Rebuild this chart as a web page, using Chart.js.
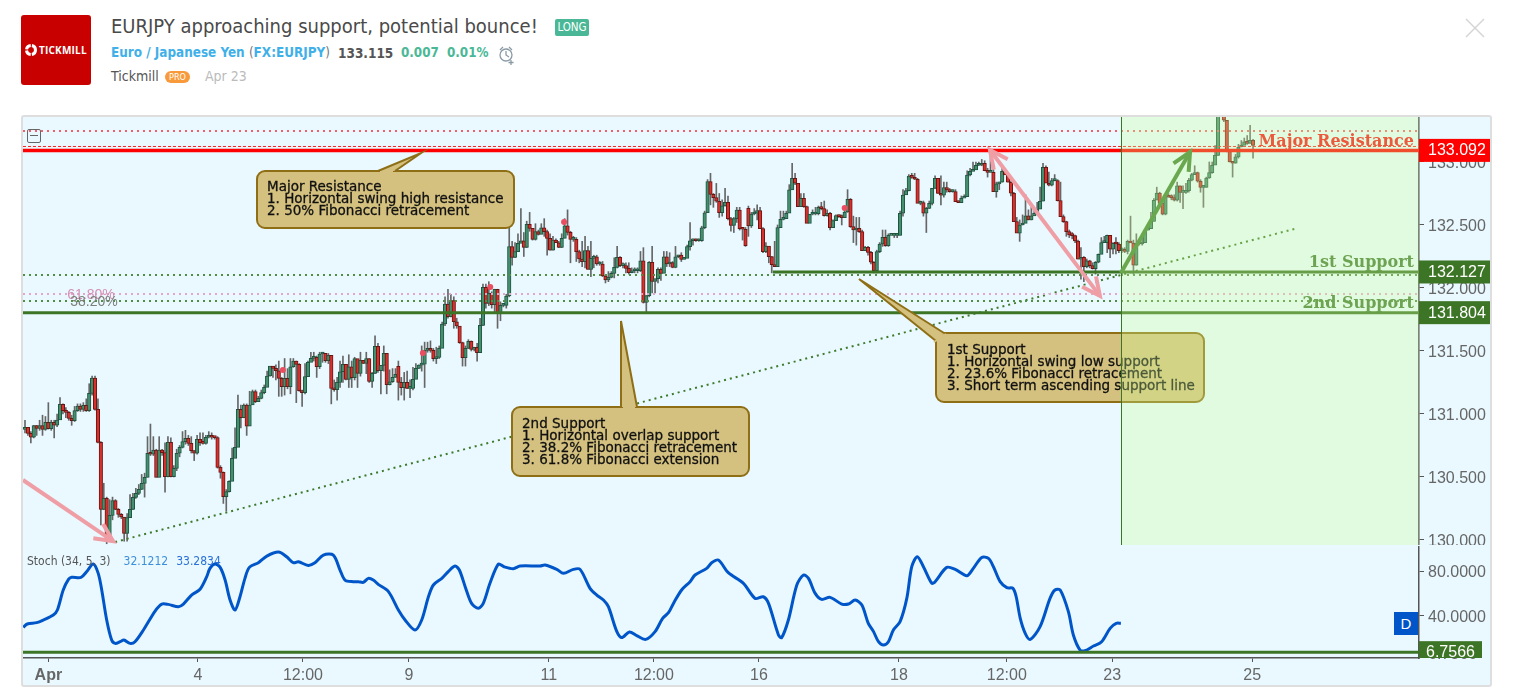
<!DOCTYPE html>
<html>
<head>
<meta charset="utf-8">
<title>EURJPY approaching support, potential bounce!</title>
<script src="https://cdn.jsdelivr.net/npm/chart.js@4"></script>
<style>
  html, body { margin: 0; padding: 0; background: #fff; width: 1514px; height: 693px; overflow: hidden; }
  body { position: relative; font-family: "DejaVu Sans Condensed", "DejaVu Sans", sans-serif; }
  .abs { position: absolute; white-space: nowrap; }
  #panel { position: absolute; left: 21px; top: 115px; width: 1467px; height: 568px; background: #e9f9ff; border: 2px solid #dedede; border-radius: 3px; box-sizing: content-box; }
  canvas { position: absolute; }
  #logo { left: 21px; top: 15px; width: 70px; height: 70px; background: #c80000; border-radius: 3px; }
  #logoText { left: 39px; top: 43px; color: #fff; font: bold 10px "Open Sans", sans-serif; letter-spacing: 0.2px; }
  #title { left: 111px; top: 14px; color: #4a4a4a; font-size: 20px; }
  #long { left: 555px; top: 19px; width: 34px; height: 17px; line-height: 17px; text-align: center; background: #4ab896; color: #fff; border-radius: 2px; font-size: 11.5px; }
  #sym { left: 111px; top: 45px; font-size: 13.4px; font-weight: bold; color: #3fb0e8; }
  #sym i { font-style: normal; font-weight: normal; color: #777; }
  #price { left: 338px; top: 45px; font-size: 13.5px; font-weight: bold; color: #555; }
  .up { top: 45px; font-size: 13.3px; font-weight: bold; color: #4ab896; }
  #author { left: 111px; top: 68px; font-size: 14px; color: #555; }
  #pro { left: 165px; top: 71px; width: 25px; height: 12px; line-height: 12px; text-align: center; background: #f89a3a; color: #fff; border-radius: 6px; font-size: 9px; }
  #date { left: 205px; top: 68px; font-size: 14px; color: #bbb; }
  #stoch { left: 27px; top: 554px; font-size: 12px; color: #555; }
  #stoch b { font-weight: normal; }
  #dBtn { left: 1394px; top: 612px; width: 24px; height: 23px; line-height: 23px; background: #0055c8; color: #fff; text-align: center; font: 15px "Liberation Sans", sans-serif; line-height: 23px; }
  #hide { left: 27px; top: 129px; width: 12px; height: 12px; border: 1px solid #666; border-radius: 2px; }
  #hide::after { content: ""; position: absolute; left: 2px; right: 2px; top: 5px; height: 1px; background: #666; }
</style>
</head>
<body>
<div class="abs" id="logo"></div>
<svg class="abs" style="left:24px;top:43px" width="14" height="14"><circle cx="7" cy="7" r="4.5" fill="none" stroke="#fff" stroke-width="3" stroke-dasharray="6 1.2"/></svg>
<div class="abs" id="logoText">TICKMILL</div>
<div class="abs" id="title">EURJPY approaching support, potential bounce!</div>
<div class="abs" id="long">LONG</div>
<div class="abs" id="sym">Euro / Japanese Yen <i>(</i>FX:EURJPY<i>)</i></div>
<div class="abs" id="price">133.115</div>
<div class="abs up" style="left:401px">0.007</div>
<div class="abs up" style="left:447px">0.01%</div>
<svg class="abs" style="left:497px;top:45px" width="20" height="20" fill="none" stroke="#8a9aa5" stroke-width="1.3"><circle cx="9" cy="10" r="6"/><path d="M9 6v4l3 2M3 5l3-3M12 2l3 3M14 15v5M11.5 17.500h5"/></svg>
<div class="abs" id="author">Tickmill</div>
<div class="abs" id="pro">PRO</div>
<div class="abs" id="date">Apr 23</div>
<svg class="abs" style="left:1465px;top:18px" width="20" height="20" stroke="#d5d5d5" stroke-width="1.5"><path d="M1 1L19 19M19 1L1 19"/></svg>
<div id="panel"></div>
<canvas id="priceChart" width="1467" height="428" style="left:23px;top:117px"></canvas>
<canvas id="stochChart" width="1467" height="138" style="left:23px;top:546px"></canvas>
<div class="abs" id="hide"></div>
<div class="abs" id="stoch">Stoch (34, 5, 3)<b style="color:#3d8fd9;margin-left:13px">32.1212</b><b style="color:#2a70d8;margin-left:8px">33.2834</b></div>
<div class="abs" id="dBtn">D</div>

<script>
// hourly candles, bar 0 sits at the left edge of the pane
const firstOpen = 130.878
const closes = [
  130.894,130.846,130.815,130.907,130.886,130.907,130.878,130.934,130.883,130.934,130.912,130.952,131.077,131.026,131.013,130.965,130.947,131.026,131.063,131.037,
  131.069,131.026,131.164,131.285,131.037,130.775,130.243,130.330,130.013,130.195,130.312,130.243,130.203,130.182,130.052,130.177,130.243,130.338,130.370,130.402,
  130.449,130.497,130.688,130.680,130.714,130.497,130.714,130.693,130.502,130.775,130.502,130.568,130.688,130.735,130.780,130.807,130.767,130.709,130.688,130.799,
  130.772,130.767,130.815,130.830,130.815,130.812,130.576,130.537,130.343,130.383,130.465,130.648,130.735,131.037,130.971,131.071,130.904,131.071,131.177,131.098,
  131.124,131.169,131.211,131.301,131.381,
  131.362,131.343,131.282,131.216,131.282,131.216,131.375,131.420,131.394,131.185,131.169,131.296,131.409,131.441,131.449,
  131.375,131.476,131.481,131.423,131.465,131.203,131.192,131.251,131.335,131.394,131.274,131.375,131.288,131.439,131.322,
  131.425,131.402,131.439,131.259,131.322,131.536,131.343,131.386,131.481,131.232,131.256,131.290,131.314,131.251,131.208,
  131.251,131.203,131.203,131.274,131.362,131.388,131.396,131.505,131.521,131.505,131.439,131.449,131.521,131.714,131.873,
  131.772,131.899,131.732,131.698,131.566,131.446,131.521,131.576,131.513,131.528,131.486,131.703,132.005,131.878,131.957,
  131.867,131.989,131.804,131.862,131.862,131.936,
  132.328,132.243,132.288,132.354,132.375,132.322,132.505,132.473,132.386,132.447,132.425,132.478,132.447,132.394,132.301,132.380,132.359,132.322,132.394,132.494,
  132.441,132.386,132.386,132.288,132.230,132.208,132.296,132.148,132.235,132.248,132.190,132.190,132.095,132.063,132.084,132.116,132.163,132.243,132.177,132.177,
  132.156,132.121,132.137,132.137,132.137,132.216,131.886,131.939,132.203,132.052,132.074,132.148,132.116,132.248,132.190,132.201,132.163,132.248,132.261,132.227,
  132.235,132.328,132.375,132.380,132.375,132.375,132.478,132.597,
  132.844,132.743,132.717,132.688,132.598,132.651,132.680,132.550,132.497,132.550,132.619,132.471,132.466,132.336,132.492,132.587,132.593,132.614,132.471,132.288,
  132.333,132.249,132.185,132.169,132.479,132.545,132.550,132.593,132.778,132.870,132.831,132.646,132.712,132.646,132.513,132.585,132.587,132.590,132.640,132.630,
  132.574,132.593,132.479,132.534,132.574,132.566,132.558,132.603,132.704,132.487,132.460,132.474,132.447,132.296,132.323,132.283,132.204,132.138,132.288,132.349,
  132.402,132.336,132.418,132.418,132.418,132.418,132.593,132.738,132.773,132.889,132.878,132.863,132.672,132.677,132.593,132.632,132.672,132.791,132.870,132.751,
  132.736,132.797,132.778,132.765,132.765,132.685,132.678,132.712,132.725,132.897,132.926,132.937,132.974,132.974,132.990,132.932,132.918,132.918,132.765,132.826,
  132.839,132.926,132.897,132.839,132.752,132.527,132.434,132.500,132.513,132.572,132.540,132.572,132.593,132.625,132.688,132.958,132.831,132.815,132.852,132.852,
  132.693,132.566,132.527,132.447,132.421,132.416,132.373,132.228,132.244,132.170,132.215,132.177,132.154,132.204,132.267,132.360,132.360,132.418,132.307,132.355,
  132.349,132.297,132.297,132.291,
  132.370,132.357,132.180,132.357,132.349,132.360,132.458,132.471,132.529,132.696,132.754,132.672,132.585,132.736,132.720,132.717,132.696,132.810,132.759,132.759,
  132.773,132.855,132.900,132.915,132.847,132.799,132.799,132.873,132.915,132.974,133.053,133.423,133.450,133.331,133.085,133.000,132.990,133.040,133.119,133.132,
  133.159,133.148,133.172,133.132
]
// the few bars that opened away from the previous close
const openGaps = { 128: 131.378, 248: 132.632 }
const highs = [
  130.95,130.89,130.86,130.91,130.91,130.95,130.99,130.98,131.09,130.95,130.95,131.00,131.13,131.08,131.05,131.02,130.99,131.06,131.08,131.08,
  131.09,131.12,131.24,131.30,131.30,131.12,130.78,130.45,130.34,130.32,130.34,130.32,130.25,130.21,130.18,130.21,130.36,130.37,130.41,130.44,
  130.52,130.53,130.82,130.92,130.82,130.72,130.82,130.72,130.77,130.82,130.81,130.59,130.72,130.75,130.86,130.87,130.83,130.82,130.71,130.83,
  130.85,130.85,130.83,130.86,130.85,130.82,130.82,130.59,130.54,130.40,130.47,130.73,130.89,131.15,131.07,131.08,131.08,131.18,131.19,131.19,
  131.14,131.19,131.23,131.34,131.35,
  131.37,131.39,131.42,131.29,131.44,131.36,131.44,131.44,131.42,131.40,131.19,131.40,131.42,131.49,131.49,
  131.46,131.49,131.49,131.48,131.48,131.46,131.27,131.29,131.42,131.46,131.39,131.47,131.42,131.45,131.42,
  131.49,131.42,131.49,131.44,131.33,131.62,131.56,131.38,131.54,131.48,131.35,131.36,131.36,131.42,131.29,
  131.33,131.34,131.27,131.37,131.40,131.39,131.54,131.57,131.57,131.58,131.52,131.53,131.54,131.73,131.93,
  131.99,131.95,131.93,131.76,131.69,131.57,131.54,131.59,131.58,131.53,131.56,131.76,132.03,132.03,132.05,
  131.97,131.99,131.99,131.89,131.87,131.95,
  132.49,132.37,132.36,132.43,132.63,132.44,132.53,132.60,132.47,132.51,132.46,132.51,132.55,132.46,132.43,132.41,132.39,132.37,132.43,132.55,
  132.62,132.45,132.41,132.40,132.30,132.37,132.41,132.33,132.37,132.26,132.26,132.21,132.21,132.10,132.13,132.13,132.24,132.33,132.25,132.20,
  132.20,132.20,132.16,132.16,132.16,132.29,132.32,131.94,132.21,132.33,132.07,132.16,132.16,132.29,132.29,132.28,132.21,132.33,132.26,132.28,
  132.24,132.34,132.52,132.39,132.39,132.39,132.49,132.61,
  132.86,132.91,132.75,132.83,132.75,132.70,132.79,132.73,132.56,132.56,132.64,132.64,132.48,132.48,132.65,132.60,132.63,132.66,132.64,132.48,
  132.36,132.33,132.25,132.37,132.50,132.61,132.61,132.61,132.82,132.99,132.91,132.83,132.75,132.75,132.65,132.58,132.62,132.64,132.65,132.68,
  132.69,132.62,132.60,132.54,132.58,132.58,132.58,132.62,132.78,132.71,132.57,132.56,132.56,132.46,132.33,132.33,132.29,132.21,132.30,132.36,
  132.46,132.46,132.43,132.42,132.43,132.43,132.61,132.78,132.79,132.90,132.91,132.91,132.87,132.69,132.69,132.64,132.69,132.79,132.89,132.87,
  132.89,132.84,132.84,132.79,132.78,132.78,132.69,132.73,132.74,132.93,132.95,133.00,133.00,133.00,133.02,133.01,132.95,133.10,132.94,132.84,
  132.84,132.95,132.95,132.91,132.85,132.76,132.56,132.54,132.58,132.74,132.62,132.64,132.64,132.68,132.80,132.99,132.97,132.92,132.87,132.90,
  132.86,132.84,132.58,132.53,132.46,132.44,132.42,132.38,132.32,132.25,132.23,132.22,132.20,132.21,132.27,132.40,132.41,132.42,132.41,132.36,
  132.40,132.36,132.32,132.32,
  132.38,132.57,132.38,132.43,132.37,132.43,132.46,132.50,132.60,132.71,132.80,132.76,132.68,132.74,132.75,132.74,132.74,132.84,132.81,132.81,
  132.83,132.87,132.91,132.97,132.92,132.86,132.81,132.88,133.00,133.00,133.13,133.45,133.45,133.43,133.33,133.09,133.00,133.06,133.14,133.17,
  133.19,133.21,133.29,133.18
]
const lows = [
  130.85,130.83,130.77,130.81,130.83,130.87,130.83,130.87,130.88,130.87,130.81,130.90,130.98,131.00,130.97,130.95,130.91,130.94,131.02,131.02,
  131.02,131.02,131.02,131.15,131.03,130.77,130.12,130.24,129.97,130.01,130.16,130.24,130.18,130.17,129.99,129.99,130.18,130.24,130.33,130.36,
  130.40,130.34,130.50,130.67,130.67,130.50,130.50,130.67,130.38,130.50,130.50,130.50,130.55,130.66,130.73,130.76,130.75,130.69,130.63,130.68,
  130.75,130.76,130.76,130.81,130.80,130.80,130.57,130.49,130.29,130.23,130.38,130.53,130.73,131.03,130.89,130.97,130.83,131.06,131.08,131.09,
  131.10,131.12,131.16,131.22,131.30,
  131.29,131.27,131.14,131.14,131.15,131.20,131.16,131.37,131.09,131.18,131.06,131.16,131.37,131.42,131.42,
  131.29,131.36,131.41,131.41,131.40,131.08,131.18,131.11,131.21,131.25,131.27,131.21,131.21,131.27,131.21,
  131.30,131.40,131.32,131.25,131.21,131.32,131.33,131.16,131.34,131.16,131.23,131.25,131.29,131.11,131.15,
  131.11,131.20,131.13,131.19,131.33,131.36,131.34,131.21,131.49,131.49,131.42,131.40,131.44,131.68,131.70,
  131.76,131.77,131.68,131.68,131.56,131.38,131.38,131.52,131.50,131.50,131.42,131.56,131.70,131.84,131.86,
  131.84,131.80,131.68,131.74,131.85,131.84,
  131.93,132.18,132.24,132.33,132.36,132.25,132.32,132.45,132.38,132.38,132.42,132.43,132.41,132.26,132.30,132.30,132.36,132.32,132.32,132.40,
  132.42,132.20,132.37,132.21,132.20,132.17,132.16,132.15,132.09,132.16,132.18,132.18,132.09,132.04,132.05,132.08,132.08,132.16,132.17,132.16,
  132.12,132.11,132.12,132.12,132.12,132.13,131.88,131.81,131.93,131.96,131.96,132.04,132.06,132.18,132.17,132.17,132.16,132.16,132.24,132.21,
  132.23,132.24,132.30,132.34,132.37,132.37,132.37,132.47,
  132.60,132.66,132.64,132.68,132.56,132.57,132.65,132.54,132.45,132.44,132.52,132.46,132.38,132.33,132.41,132.48,132.58,132.54,132.47,132.28,
  132.28,132.20,132.12,132.17,132.17,132.48,132.54,132.55,132.70,132.78,132.82,132.65,132.65,132.64,132.52,132.52,132.58,132.58,132.58,132.62,
  132.57,132.57,132.46,132.48,132.54,132.56,132.50,132.56,132.60,132.48,132.36,132.34,132.44,132.30,132.30,132.26,132.19,132.12,132.12,132.28,
  132.33,132.33,132.33,132.42,132.40,132.40,132.42,132.57,132.74,132.77,132.87,132.86,132.68,132.66,132.57,132.44,132.63,132.66,132.79,132.75,
  132.66,132.72,132.76,132.76,132.76,132.69,132.68,132.68,132.72,132.73,132.89,132.93,132.94,132.97,132.97,132.93,132.88,132.92,132.77,132.72,
  132.78,132.84,132.90,132.84,132.73,132.53,132.44,132.37,132.50,132.52,132.54,132.54,132.58,132.58,132.63,132.69,132.84,132.81,132.81,132.85,
  132.69,132.57,132.52,132.41,132.40,132.39,132.36,132.23,132.07,132.05,132.16,132.16,132.15,132.11,132.20,132.28,132.36,132.28,132.24,132.27,
  132.27,132.28,132.28,132.28,
  132.27,132.36,132.11,132.18,132.34,132.34,132.36,132.46,132.47,132.53,132.70,132.67,132.58,132.58,132.72,132.70,132.69,132.69,132.68,132.63,
  132.75,132.76,132.85,132.90,132.84,132.76,132.64,132.80,132.87,132.91,132.98,133.05,133.41,133.32,133.08,133.00,132.88,132.99,133.03,133.12,
  133.14,133.14,133.15,133.03
]

// red event dots above the candles
const eventBars = [88.4, 136.4, 159.5, 184.8, 281]
const eventPrices = [131.349, 131.484, 132.008, 132.524, 132.635]

// stochastic, sampled along the curve
const stochBars = [
  -0.6,0.8,4,6.3,9.7,11.1,13.1,14.9,16,19.2,21.1,23.4,25.1,26.3,28,29.7,30.9,32.6,33.9,36,37.7,40.6,44.6,46.9,49.1,52.6,54.3,57.1,60,62.3,63.4,65.1,66.9,68.6,70.3,72,73.7,75.4,76.9,80,
  82.9,86.9,89.7,92,93.7,97.1,99.4,102.3,105.7,108,109.7,112.6,114.3,116,117.7,119.4,121.1,124.6,128,130.3,133.7,136,138.3,140,142.9,145.1,147.4,148.9,150.9,153.1,155.4,157.1,159.4,162.3,
  164.2,167.4,169.7,176.6,178.3,182.3,184.6,188,190.3,193.7,196,198.3,200,202.9,204.6,207.2,209.7,212.8,216,218.6,220.6,222.3,225.1,228,229.7,233.7,235.4,237.7,241.1,246.3,250.3,253.1,254.9,
  258.3,259.4,261.7,264.6,266.9,268.6,270.9,273.1,276,280,282.3,284.6,286.9,289.1,290.9,292.6,294.3,296,297.7,300,302.3,304,305.9,308,310.9,312,316,318.9,322.9,325.1,328,330.3,332,334.3,336.6,338.7,339.8,341.2,
  342.9,344.6,348,351.4,353.1,354.9,357.7,359.4,361.7,363.4,366.3,369.1,372,374.1,375.7
]
const stochValues = [
  29.2,32.2,33.4,35.8,40.3,44.8,62.9,72.5,74.3,74.3,79.4,86.3,77.9,62.9,35.8,17.7,14.7,16.2,17.7,14.7,16.2,26.8,43.9,50.2,49.9,47.8,50.2,58.3,63.5,74.9,82.4,86.3,83.3,71.9,53.8,44.8,56.8,73.4,83.3,87.5,
  93.5,97.1,92.9,87.5,88.4,85.1,87.5,94.4,94.4,80.9,71.9,70.4,70.4,69.8,73.4,71.9,68,61.4,44.8,35.8,26.8,35.8,56.8,67.4,73.4,79.4,84.5,80.9,65.9,50.8,46.3,50.8,68.9,86.3,
  83.9,82.1,84.5,84.5,85.4,81.5,77.9,81.5,81.5,64.4,58.3,53.8,47.8,25.3,19.9,25,21.7,18.3,25.3,37.3,42.4,50.8,62.9,70.4,76.4,82.4,87.5,89.9,78.5,68.9,55.3,56.8,50.8,
  22.3,19.9,35.8,67.4,76.4,73.4,59.8,54.4,56.2,50.2,50.2,53.8,49.3,32.8,25.3,16.2,13.2,16.2,26.8,34.3,55.3,83.9,92.9,83.9,68.9,70.4,83.3,81.5,75.8,82.4,92.3,91.4,83.9,70.4,65,64.4,56.8,37.3,
  23.8,18.3,29.8,55.3,62.9,62.9,43.3,22.3,8.7,8.1,12.3,16.2,28.3,32.8,32.8
]

// axis ticks
const priceTicks = [130, 130.5, 131, 131.5, 132, 132.5, 133]
const stochTicks = [80, 40, 6.7566]
const timeTickBars = [8, 59.3, 95.3, 131.6, 179.6, 215.6, 251.6, 299.6, 336.6, 372.7, 420.7]
const timeTickLabels = ["Apr", "4", "12:00", "9", "11", "12:00", "16", "18", "12:00", "23", "25"]

// levels and drawings, in bar/price coordinates
const resistance = 133.092
const firstSupport = 132.127
const secondSupport = 131.804
const stochLast = 6.7566
const firstBar = -0.69
const lastBar = 477.9
const firstSupportStart = 256.4
const shadeStart = 375.7
const trendBars = [30.9, 436.4]
const trendPrices = [129.984, 132.476]
const dottedRed = 133.246
const dashedRed = 133.123
const dottedGreenHigh = 132.103
const dottedPink = 131.952
const dottedGreenLow = 131.897
const fibLabels = [["61.80%", 14.5, 131.945, "#d68fb5"], ["38.20%", 15.5, 131.89, "#7a7f78"]]
const arrows = [
  { from: [-0.7, 130.476], to: [30.2, 129.99], color: "#ef9ea5", both: false },
  { from: [330.8, 133.095], to: [368.5, 131.937], color: "#ef9ea5", both: true },
  { from: [375.7, 132.119], to: [399.4, 133.079], color: "#6aa84f", both: false }
]
const levelLabels = [
  ["Major Resistance", 133.159, "#ec5a3e"],
  ["1st Support", 132.2, "#6da352"],
  ["2nd Support", 131.875, "#6da352"]
]
const callouts = [
  { box: [257, 171, 257, 57], tail: [[378, 171], [421, 153], [395, 171]], textX: 267, textY: 187,
    lines: ["Major Resistance", "1. Horizontal swing high resistance", "2. 50% Fibonacci retracement"] },
  { box: [512, 407, 237, 69], tail: [[621, 407], [621, 321], [637, 407]], textX: 522, textY: 424,
    lines: ["2nd Support", "1. Horizontal overlap support", "2. 38.2% Fibonacci retracement", "3. 61.8% Fibonacci extension"] },
  { box: [936, 333, 268, 69], tail: [[944, 333], [859, 279], [936, 341]], textX: 947, textY: 350,
    lines: ["1st Support", "1. Horizontal swing low support", "2. 23.6% Fibonacci retracement", "3. Short term ascending support line"] }
]
const priceTags = [[resistance, "#ff0000", "133.092"], [firstSupport, "#3d7526", "132.127"], [secondSupport, "#3d7526", "131.804"]]

const opens = closes.map((c, i) => openGaps[i] ?? (i ? closes[i - 1] : firstOpen))
const isUp = closes.map((c, i) => c >= opens[i])
const axisFont = "Liberation Sans"

function level(price, color, width, dash, from) {
  return {
    type: "line",
    data: [{ x: from ?? firstBar, y: price }, { x: lastBar, y: price }],
    borderColor: color,
    borderWidth: width,
    borderDash: dash || [],
    pointRadius: 0,
    order: 1
  }
}

function drawArrow(ctx, x1, y1, x2, y2, color) {
  const a = Math.atan2(y2 - y1, x2 - x1)
  ctx.strokeStyle = color
  ctx.beginPath()
  ctx.moveTo(x2 - 20 * Math.cos(a - 0.45), y2 - 20 * Math.sin(a - 0.45))
  ctx.lineTo(x2, y2)
  ctx.lineTo(x2 - 20 * Math.cos(a + 0.45), y2 - 20 * Math.sin(a + 0.45))
  ctx.stroke()
}

// y tick labels sit a little low in the reference
const nudgeLabels = {
  id: "nudgeLabels",
  beforeDraw(chart) {
    chart.scales.y.getLabelItems().forEach((item) => {
      if (!item.nudged) {
        item.options.translation[1] += 2
        item.nudged = true
      }
    })
  }
}

const priceOverlay = {
  id: "priceOverlay",
  afterDraw(chart) {
    const ctx = chart.ctx
    const x = chart.scales.x
    const y = chart.scales.y
    const area = chart.chartArea
    ctx.save()

    // callouts, page coordinates shifted to the canvas
    ctx.save()
    ctx.translate(-23, -117)
    callouts.forEach((c) => {
      ctx.fillStyle = "#d4c17f"
      ctx.strokeStyle = "#8f6f16"
      ctx.lineWidth = 2
      ctx.beginPath()
      ctx.roundRect(c.box[0], c.box[1], c.box[2], c.box[3], 8)
      ctx.fill()
      ctx.stroke()
      ctx.beginPath()
      ctx.moveTo(c.tail[0][0], c.tail[0][1])
      ctx.lineTo(c.tail[1][0], c.tail[1][1])
      ctx.lineTo(c.tail[2][0], c.tail[2][1])
      ctx.fill()
      ctx.stroke()
      ctx.strokeStyle = "#d4c17f"
      ctx.beginPath()
      ctx.moveTo(c.tail[0][0] + 2, c.tail[0][1] + 1)
      ctx.lineTo(c.tail[2][0] - 2, c.tail[2][1] + 1)
      ctx.stroke()
      ctx.fillStyle = "#111"
      ctx.strokeStyle = "#111"
      ctx.lineWidth = 0.3
      ctx.font = "13.5px 'DejaVu Sans'"
      ctx.textBaseline = "middle"
      ctx.textAlign = "left"
      c.lines.forEach((line, i) => {
        ctx.fillText(line, c.textX, c.textY + i * 12)
        ctx.strokeText(line, c.textX, c.textY + i * 12)
      })
    })
    ctx.restore()

    // fibonacci level captions
    ctx.font = "14px " + axisFont
    ctx.textAlign = "left"
    ctx.textBaseline = "middle"
    fibLabels.forEach((f) => {
      ctx.fillStyle = f[3]
      ctx.fillText(f[0], x.getPixelForValue(f[1]), y.getPixelForValue(f[2]))
    })

    // long position shade and its left edge
    const shadeX = x.getPixelForValue(shadeStart)
    ctx.fillStyle = "rgba(205,255,150,0.3)"
    ctx.fillRect(shadeX, area.top, area.right - shadeX, area.bottom - area.top)
    ctx.strokeStyle = "#3d7526"
    ctx.lineWidth = 1
    ctx.beginPath()
    ctx.moveTo(Math.round(shadeX) + 0.5, area.top)
    ctx.lineTo(Math.round(shadeX) + 0.5, area.bottom)
    ctx.stroke()

    // arrows
    ctx.lineWidth = 4
    ctx.lineCap = "butt"
    arrows.forEach((a) => {
      const x1 = x.getPixelForValue(a.from[0])
      const y1 = y.getPixelForValue(a.from[1])
      const x2 = x.getPixelForValue(a.to[0])
      const y2 = y.getPixelForValue(a.to[1])
      ctx.strokeStyle = a.color
      ctx.beginPath()
      ctx.moveTo(x1, y1)
      ctx.lineTo(x2, y2)
      ctx.stroke()
      drawArrow(ctx, x1, y1, x2, y2, a.color)
      if (a.both) drawArrow(ctx, x2, y2, x1, y1, a.color)
    })

    // level captions on the right
    ctx.font = "bold 16px 'DejaVu Serif'"
    ctx.textAlign = "right"
    ctx.textBaseline = "middle"
    levelLabels.forEach((l) => {
      ctx.fillStyle = l[2]
      ctx.fillText(l[0], area.right - 5, y.getPixelForValue(l[1]))
    })

    // price tags on the axis
    ctx.font = "16px " + axisFont
    ctx.textAlign = "left"
    priceTags.forEach((t) => {
      const py = y.getPixelForValue(t[0])
      ctx.fillStyle = t[1]
      ctx.fillRect(area.right, py - 11.5, 71, 23)
      ctx.fillStyle = "#fff"
      ctx.fillText(t[2], area.right + 9, py + 0.5)
    })
    ctx.restore()
  }
}

const stochOverlay = {
  id: "stochOverlay",
  afterDraw(chart) {
    const ctx = chart.ctx
    const area = chart.chartArea
    const py = chart.scales.y.getPixelForValue(stochLast)
    ctx.save()
    ctx.beginPath()
    ctx.rect(area.right, area.top, 71, area.bottom - area.top)
    ctx.clip()
    ctx.fillStyle = "#3d7526"
    ctx.fillRect(area.right, py - 11, 63, 30)
    ctx.fillStyle = "#fff"
    ctx.font = "16px " + axisFont
    ctx.textAlign = "left"
    ctx.textBaseline = "middle"
    ctx.fillText("6.7566", area.right + 7, py + 0.5)
    ctx.restore()
  }
}

new Chart(document.getElementById("priceChart"), {
  type: "bar",
  data: {
    datasets: [
      {
        data: closes.map((c, i) => ({ x: i, y: [lows[i], highs[i]] })),
        backgroundColor: "#666",
        barThickness: 1,
        grouped: false,
        order: 4
      },
      {
        data: closes.map((c, i) => ({ x: i, y: [opens[i], c] })),
        backgroundColor: isUp.map((up) => (up ? "#44906e" : "#d8302c")),
        borderColor: isUp.map((up) => (up ? "#1f5540" : "#6a1512")),
        borderWidth: 1,
        borderSkipped: false,
        barThickness: 3.5,
        minBarLength: 2,
        grouped: false,
        order: 3
      },
      {
        type: "scatter",
        data: eventBars.map((b, i) => ({ x: b, y: eventPrices[i] })),
        backgroundColor: "#ea4e60",
        borderWidth: 0,
        pointRadius: 3,
        order: 2
      },
      level(dottedRed, "#f0606a", 2, [2, 4]),
      level(dashedRed, "#ff2020", 1, [3, 2]),
      level(resistance, "#ff0000", 3.5),
      level(dottedGreenHigh, "#4f8f3f", 2, [2, 4]),
      level(dottedPink, "#e3a5c8", 2, [2, 4]),
      level(dottedGreenLow, "#4f8f3f", 2, [2, 4]),
      level(firstSupport, "#3d7526", 3, [], firstSupportStart),
      level(secondSupport, "#3d7526", 3),
      {
        type: "line",
        data: trendBars.map((b, i) => ({ x: b, y: trendPrices[i] })),
        borderColor: "#3f7a2a",
        borderWidth: 2,
        borderDash: [2, 4],
        pointRadius: 0,
        order: 1
      }
    ]
  },
  options: {
    responsive: false,
    animation: false,
    layout: { padding: 0, autoPadding: false },
    plugins: { legend: { display: false }, tooltip: { enabled: false } },
    scales: {
      x: { type: "linear", display: false, offset: false, min: firstBar, max: lastBar },
      y: {
        position: "right",
        min: 129.96,
        max: 133.357,
        afterFit(scale) {
          scale.width = 71
          scale.paddingTop = 0
          scale.paddingBottom = 0
        },
        afterBuildTicks(scale) {
          scale.ticks = priceTicks.map((v) => ({ value: v }))
        },
        grid: { drawOnChartArea: false, color: "#555", tickLength: 5 },
        border: { color: "#555", width: 1.5 },
        ticks: {
          autoSkip: false,
          color: "#666",
          padding: 4,
          font: { family: axisFont, size: 16 },
          callback: (v) => v.toFixed(3)
        }
      }
    }
  },
  plugins: [nudgeLabels, priceOverlay]
})

new Chart(document.getElementById("stochChart"), {
  type: "line",
  data: {
    datasets: [
      {
        data: stochBars.map((b, i) => ({ x: b, y: stochValues[i] })),
        borderColor: "#0055c8",
        borderWidth: 3,
        tension: 0.3,
        pointRadius: 0,
        order: 2
      },
      {
        data: [{ x: firstBar, y: stochLast }, { x: lastBar, y: stochLast }],
        borderColor: "#3d7526",
        borderWidth: 3,
        pointRadius: 0,
        order: 1
      }
    ]
  },
  options: {
    responsive: false,
    animation: false,
    layout: { padding: 0, autoPadding: false },
    plugins: { legend: { display: false }, tooltip: { enabled: false } },
    scales: {
      x: {
        type: "linear",
        min: firstBar,
        max: lastBar,
        afterFit(scale) {
          scale.height = 26
          scale.paddingLeft = 0
          scale.paddingRight = 0
        },
        afterBuildTicks(scale) {
          scale.ticks = timeTickBars.map((v) => ({ value: v }))
        },
        grid: { drawOnChartArea: false, color: "#555", tickLength: 4 },
        border: { color: "#555", width: 1.5 },
        ticks: {
          autoSkip: false,
          maxRotation: 0,
          color: "#666",
          padding: 4,
          font: (c) => ({ family: axisFont, size: 16, weight: c.index === 0 ? "bold" : "normal" }),
          callback: (v, i) => timeTickLabels[i]
        }
      },
      y: {
        position: "right",
        min: 1.5,
        max: 102.6,
        afterFit(scale) {
          scale.width = 71
          scale.paddingTop = 0
          scale.paddingBottom = 0
        },
        afterBuildTicks(scale) {
          scale.ticks = stochTicks.map((v) => ({ value: v }))
        },
        grid: { drawOnChartArea: false, color: "#555", tickLength: 5 },
        border: { color: "#555", width: 1.5 },
        ticks: {
          autoSkip: false,
          color: "#666",
          padding: 4,
          font: { family: axisFont, size: 16 },
          callback: (v) => v.toFixed(4)
        }
      }
    }
  },
  plugins: [nudgeLabels, stochOverlay]
})
</script>
</body>
</html>
